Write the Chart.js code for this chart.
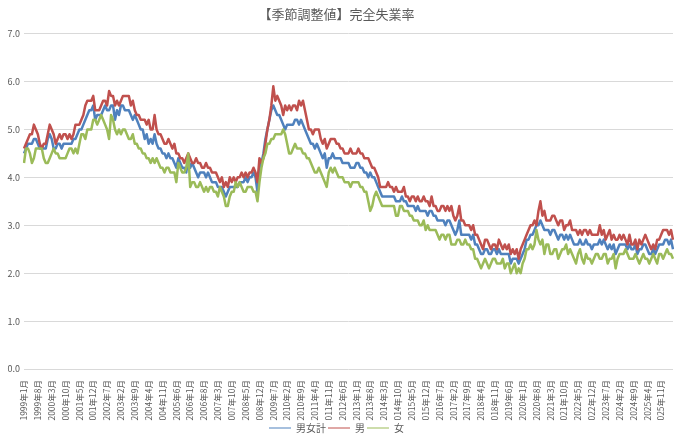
<!DOCTYPE html>
<html lang="ja">
<head>
<meta charset="utf-8">
<title>完全失業率</title>
<script src="https://cdn.jsdelivr.net/npm/chart.js@4.4.1/dist/chart.umd.min.js"></script>
<style>
  html, body { margin: 0; padding: 0; background: #ffffff; }
  #wrap { width: 680px; height: 443px; }
</style>
</head>
<body>
<div id="wrap"><canvas id="unempChart"></canvas></div>
<script>
// 1999年1月 から 2026年5月 までの月次 (季節調整値, %)
var startYear = 1999;
var startMonth = 1;

var total = [
    4.5, 4.6, 4.7, 4.7, 4.7, 4.8, 4.8, 4.7, 4.6, 4.6, 4.6, 4.6, // 1999
    4.8, 4.9, 4.8, 4.6, 4.6, 4.7, 4.7, 4.6, 4.7, 4.7, 4.7, 4.7, // 2000
    4.7, 4.8, 4.8, 4.9, 5.0, 5.0, 5.1, 5.2, 5.3, 5.4, 5.4, 5.5, // 2001
    5.2, 5.3, 5.3, 5.3, 5.4, 5.5, 5.4, 5.4, 5.5, 5.5, 5.2, 5.4, // 2002
    5.3, 5.5, 5.5, 5.4, 5.4, 5.4, 5.3, 5.2, 5.3, 5.2, 5.1, 5.0, // 2003
    5.0, 4.8, 4.9, 4.7, 4.8, 4.7, 4.9, 4.7, 4.6, 4.6, 4.5, 4.5, // 2004
    4.4, 4.5, 4.4, 4.4, 4.3, 4.2, 4.4, 4.3, 4.2, 4.2, 4.1, 4.4, // 2005
    4.2, 4.3, 4.2, 4.1, 4.0, 4.1, 4.1, 4.1, 4.0, 4.1, 4.0, 3.9, // 2006
    3.9, 3.9, 3.8, 3.8, 3.8, 3.7, 3.6, 3.7, 3.8, 3.8, 3.8, 3.8, // 2007
    3.8, 3.9, 3.9, 3.9, 4.0, 3.9, 4.0, 4.0, 4.1, 4.0, 3.7, 4.2, // 2008
    4.3, 4.5, 4.8, 5.0, 5.2, 5.4, 5.5, 5.4, 5.3, 5.3, 5.2, 5.1, // 2009
    5.0, 5.1, 5.1, 5.1, 5.1, 5.2, 5.2, 5.1, 5.2, 5.1, 5.0, 4.9, // 2010
    4.8, 4.7, 4.7, 4.6, 4.7, 4.6, 4.5, 4.4, 4.5, 4.2, 4.4, 4.4, // 2011
    4.5, 4.4, 4.4, 4.4, 4.4, 4.3, 4.3, 4.3, 4.3, 4.2, 4.2, 4.2, // 2012
    4.3, 4.3, 4.2, 4.2, 4.1, 4.1, 4.0, 4.1, 4.0, 4.0, 3.9, 3.8, // 2013
    3.7, 3.6, 3.6, 3.6, 3.6, 3.6, 3.6, 3.6, 3.5, 3.5, 3.5, 3.6, // 2014
    3.5, 3.5, 3.4, 3.4, 3.4, 3.4, 3.3, 3.4, 3.3, 3.3, 3.3, 3.3, // 2015
    3.2, 3.3, 3.3, 3.2, 3.2, 3.1, 3.1, 3.1, 3.1, 3.0, 3.1, 3.1, // 2016
    3.0, 2.9, 2.8, 2.9, 3.1, 2.8, 2.8, 2.8, 2.8, 2.8, 2.7, 2.8, // 2017
    2.6, 2.6, 2.5, 2.4, 2.4, 2.5, 2.5, 2.4, 2.4, 2.5, 2.5, 2.4, // 2018
    2.5, 2.4, 2.4, 2.4, 2.4, 2.4, 2.2, 2.3, 2.3, 2.3, 2.2, 2.3, // 2019
    2.4, 2.5, 2.7, 2.7, 2.8, 2.8, 2.9, 3.0, 3.0, 3.1, 3.0, 2.9, // 2020
    2.9, 2.9, 2.8, 2.9, 2.9, 2.8, 2.7, 2.8, 2.8, 2.7, 2.8, 2.7, // 2021
    2.8, 2.7, 2.6, 2.6, 2.6, 2.7, 2.6, 2.6, 2.7, 2.6, 2.6, 2.5, // 2022
    2.6, 2.6, 2.6, 2.7, 2.6, 2.7, 2.6, 2.5, 2.6, 2.5, 2.6, 2.4, // 2023
    2.5, 2.6, 2.6, 2.6, 2.6, 2.5, 2.6, 2.5, 2.5, 2.6, 2.4, 2.5, // 2024
    2.5, 2.6, 2.6, 2.5, 2.4, 2.4, 2.5, 2.4, 2.5, 2.6, 2.6, 2.6, // 2025
    2.7, 2.7, 2.6, 2.7, 2.5                                     // 2026
];

var men = [
    4.6, 4.7, 4.8, 4.9, 4.9, 5.1, 5.0, 4.9, 4.7, 4.6, 4.7, 4.7, // 1999
    4.9, 5.1, 5.0, 4.9, 4.7, 4.8, 4.9, 4.8, 4.9, 4.9, 4.8, 4.9, // 2000
    4.8, 4.9, 5.1, 5.1, 5.1, 5.2, 5.3, 5.5, 5.6, 5.6, 5.6, 5.7, // 2001
    5.4, 5.4, 5.4, 5.5, 5.6, 5.6, 5.5, 5.8, 5.7, 5.7, 5.5, 5.6, // 2002
    5.5, 5.6, 5.7, 5.7, 5.7, 5.7, 5.5, 5.6, 5.4, 5.3, 5.3, 5.2, // 2003
    5.2, 5.2, 5.1, 5.2, 5.0, 5.0, 5.3, 5.0, 4.9, 4.9, 4.8, 4.7, // 2004
    4.7, 4.8, 4.7, 4.6, 4.7, 4.5, 4.5, 4.4, 4.4, 4.3, 4.4, 4.5, // 2005
    4.4, 4.3, 4.3, 4.4, 4.3, 4.3, 4.2, 4.2, 4.3, 4.2, 4.2, 4.1, // 2006
    4.1, 4.1, 4.0, 3.9, 4.0, 3.8, 3.9, 3.8, 4.0, 3.9, 4.0, 3.9, // 2007
    4.0, 4.0, 4.1, 4.0, 4.1, 4.0, 4.1, 4.1, 4.2, 4.1, 3.9, 4.4, // 2008
    4.3, 4.4, 4.7, 5.0, 5.2, 5.5, 5.9, 5.6, 5.7, 5.6, 5.5, 5.3, // 2009
    5.5, 5.4, 5.5, 5.4, 5.5, 5.5, 5.4, 5.6, 5.5, 5.6, 5.4, 5.2, // 2010
    5.0, 5.0, 4.9, 5.0, 5.0, 5.0, 4.8, 4.7, 4.8, 4.6, 4.7, 4.8, // 2011
    4.8, 4.8, 4.7, 4.7, 4.6, 4.6, 4.5, 4.5, 4.5, 4.6, 4.5, 4.5, // 2012
    4.5, 4.6, 4.5, 4.5, 4.4, 4.4, 4.4, 4.3, 4.2, 4.2, 4.1, 4.0, // 2013
    3.8, 3.8, 3.8, 3.8, 3.9, 3.8, 3.8, 3.7, 3.8, 3.7, 3.7, 3.7, // 2014
    3.8, 3.6, 3.6, 3.5, 3.6, 3.6, 3.5, 3.6, 3.5, 3.5, 3.6, 3.5, // 2015
    3.5, 3.4, 3.6, 3.4, 3.4, 3.3, 3.3, 3.4, 3.4, 3.3, 3.4, 3.3, // 2016
    3.4, 3.2, 3.1, 3.2, 3.4, 3.1, 3.1, 3.0, 3.0, 3.0, 2.9, 3.0, // 2017
    2.8, 2.8, 2.7, 2.6, 2.5, 2.7, 2.7, 2.6, 2.5, 2.6, 2.6, 2.5, // 2018
    2.7, 2.6, 2.5, 2.6, 2.5, 2.6, 2.4, 2.5, 2.4, 2.5, 2.3, 2.5, // 2019
    2.6, 2.7, 2.8, 2.9, 3.0, 3.0, 3.1, 3.0, 3.3, 3.5, 3.2, 3.3, // 2020
    3.1, 3.1, 3.1, 3.2, 3.2, 3.1, 3.0, 3.1, 3.1, 2.9, 3.0, 3.0, // 2021
    3.1, 2.9, 2.9, 2.9, 2.8, 2.9, 2.8, 2.9, 2.9, 2.8, 2.9, 2.8, // 2022
    2.8, 2.8, 2.8, 3.0, 2.8, 2.9, 2.7, 2.8, 2.9, 2.7, 2.8, 2.7, // 2023
    2.7, 2.8, 2.7, 2.8, 2.7, 2.6, 2.8, 2.6, 2.6, 2.7, 2.5, 2.7, // 2024
    2.6, 2.7, 2.8, 2.7, 2.6, 2.5, 2.6, 2.5, 2.7, 2.7, 2.8, 2.9, // 2025
    2.9, 2.9, 2.8, 2.9, 2.7                                     // 2026
];

var women = [
    4.3, 4.6, 4.6, 4.5, 4.3, 4.4, 4.6, 4.6, 4.6, 4.6, 4.4, 4.3, // 1999
    4.3, 4.4, 4.5, 4.6, 4.5, 4.5, 4.4, 4.4, 4.4, 4.4, 4.5, 4.6, // 2000
    4.6, 4.5, 4.6, 4.5, 4.7, 4.9, 4.9, 4.8, 5.0, 5.0, 5.0, 5.2, // 2001
    5.2, 5.1, 5.2, 5.3, 5.2, 5.1, 5.0, 4.8, 5.3, 5.2, 5.0, 4.9, // 2002
    5.0, 4.9, 5.0, 5.0, 4.9, 4.8, 4.8, 4.9, 4.7, 4.7, 4.6, 4.6, // 2003
    4.5, 4.5, 4.4, 4.4, 4.3, 4.4, 4.3, 4.4, 4.3, 4.2, 4.2, 4.1, // 2004
    4.2, 4.2, 4.1, 4.1, 4.1, 3.9, 4.3, 4.2, 4.1, 4.1, 4.2, 4.5, // 2005
    3.8, 3.9, 3.9, 3.8, 3.8, 3.9, 3.8, 3.7, 3.8, 3.7, 3.8, 3.8, // 2006
    3.7, 3.7, 3.6, 3.8, 3.7, 3.6, 3.4, 3.4, 3.6, 3.7, 3.7, 3.9, // 2007
    3.8, 3.9, 3.8, 3.7, 3.7, 3.8, 3.8, 3.8, 3.7, 3.7, 3.5, 3.9, // 2008
    4.2, 4.4, 4.5, 4.7, 4.7, 4.8, 4.8, 4.9, 4.9, 4.9, 4.9, 5.0, // 2009
    4.9, 4.7, 4.5, 4.5, 4.6, 4.7, 4.6, 4.6, 4.6, 4.5, 4.5, 4.4, // 2010
    4.4, 4.3, 4.2, 4.1, 4.1, 4.2, 4.1, 4.0, 3.9, 3.8, 4.1, 4.2, // 2011
    4.1, 4.2, 4.1, 4.0, 4.0, 4.0, 3.9, 3.9, 3.9, 3.8, 3.9, 3.9, // 2012
    3.9, 3.9, 3.8, 3.8, 3.7, 3.7, 3.5, 3.3, 3.4, 3.6, 3.7, 3.6, // 2013
    3.5, 3.4, 3.4, 3.4, 3.4, 3.4, 3.4, 3.4, 3.2, 3.2, 3.4, 3.4, // 2014
    3.3, 3.3, 3.3, 3.2, 3.2, 3.1, 3.1, 3.1, 3.0, 3.0, 3.1, 2.9, // 2015
    3.0, 2.9, 2.9, 2.9, 2.9, 2.8, 2.7, 2.8, 2.8, 2.7, 2.8, 2.8, // 2016
    2.6, 2.6, 2.6, 2.7, 2.7, 2.6, 2.6, 2.7, 2.6, 2.6, 2.5, 2.5, // 2017
    2.3, 2.3, 2.2, 2.1, 2.2, 2.3, 2.2, 2.1, 2.2, 2.3, 2.3, 2.2, // 2018
    2.2, 2.2, 2.3, 2.1, 2.2, 2.2, 2.0, 2.1, 2.2, 2.0, 2.1, 2.0, // 2019
    2.2, 2.3, 2.5, 2.5, 2.6, 2.5, 2.6, 2.9, 2.7, 2.6, 2.7, 2.4, // 2020
    2.6, 2.6, 2.4, 2.4, 2.5, 2.5, 2.3, 2.4, 2.5, 2.5, 2.6, 2.4, // 2021
    2.5, 2.4, 2.3, 2.2, 2.4, 2.5, 2.3, 2.2, 2.4, 2.3, 2.3, 2.2, // 2022
    2.3, 2.4, 2.4, 2.3, 2.3, 2.4, 2.4, 2.2, 2.3, 2.3, 2.4, 2.1, // 2023
    2.3, 2.4, 2.4, 2.4, 2.5, 2.4, 2.3, 2.3, 2.3, 2.4, 2.3, 2.2, // 2024
    2.3, 2.4, 2.3, 2.3, 2.2, 2.3, 2.4, 2.3, 2.2, 2.4, 2.4, 2.3, // 2025
    2.4, 2.5, 2.4, 2.4, 2.3                                     // 2026
];

var yTicks = [0, 1, 2, 3, 4, 5, 6, 7];
var labelEvery = 7; // 7か月ごとに目盛ラベル

// 月ラベル "1999年1月" ...
var months = [];
for (var i = 0; i < total.length; i++) {
    var n = (startMonth - 1) + i;
    months.push((startYear + Math.floor(n / 12)) + '年' + (n % 12 + 1) + '月');
}

var jpFont = "'Noto Sans CJK JP', 'Noto Sans', sans-serif";
var textGray = '#595959';

var ctx = document.getElementById('unempChart').getContext('2d');
var unempChart = new Chart(ctx, {
    type: 'line',
    data: {
        labels: months,
        datasets: [{
            label: '男女計',
            data: total,
            borderColor: '#4F81BD',
            backgroundColor: '#4F81BD',
            order: 3
        }, {
            label: '男',
            data: men,
            borderColor: '#C0504D',
            backgroundColor: '#C0504D',
            order: 2
        }, {
            label: '女',
            data: women,
            borderColor: '#9BBB59',
            backgroundColor: '#9BBB59',
            order: 1
        }]
    },
    options: {
        responsive: true,
        maintainAspectRatio: false,
        animation: false,
        layout: { padding: { left: 0, right: 7, top: 0, bottom: 0 } },
        elements: {
            line: { borderWidth: 2.5, tension: 0, borderJoinStyle: 'round' },
            point: { radius: 0, hoverRadius: 0 }
        },
        plugins: {
            title: {
                display: true,
                text: '【季節調整値】完全失業率',
                color: textGray,
                font: { family: jpFont, size: 13, weight: 'normal' },
                padding: { top: 6, bottom: 12 }
            },
            legend: {
                position: 'bottom',
                labels: {
                    color: textGray,
                    font: { family: jpFont, size: 10 },
                    usePointStyle: true,
                    pointStyle: 'line',
                    pointStyleWidth: 22,
                    padding: 2,
                    sort: function (a, b) { return a.datasetIndex - b.datasetIndex; }
                }
            },
            tooltip: { enabled: false }
        },
        scales: {
            x: {
                grid: { display: false },
                border: { display: false },
                afterFit: function (scale) { scale.height = 52; },
                ticks: {
                    autoSkip: false,
                    minRotation: 90,
                    maxRotation: 90,
                    padding: 3,
                    color: textGray,
                    font: { family: jpFont, size: 8.5 },
                    callback: function (value, index) {
                        return index % labelEvery === 0 ? months[index] : null;
                    }
                }
            },
            y: {
                min: yTicks[0],
                max: yTicks[yTicks.length - 1],
                afterFit: function (scale) { scale.width = 24; },
                afterBuildTicks: function (scale) {
                    scale.ticks = yTicks.map(function (v) { return { value: v }; });
                },
                grid: { color: '#d9d9d9', lineWidth: 1, drawTicks: false },
                border: { display: false },
                ticks: {
                    color: textGray,
                    padding: 4,
                    font: { family: jpFont, size: 9 },
                    callback: function (v) { return v.toFixed(1); }
                }
            }
        }
    }
});
</script>
</body>
</html>
